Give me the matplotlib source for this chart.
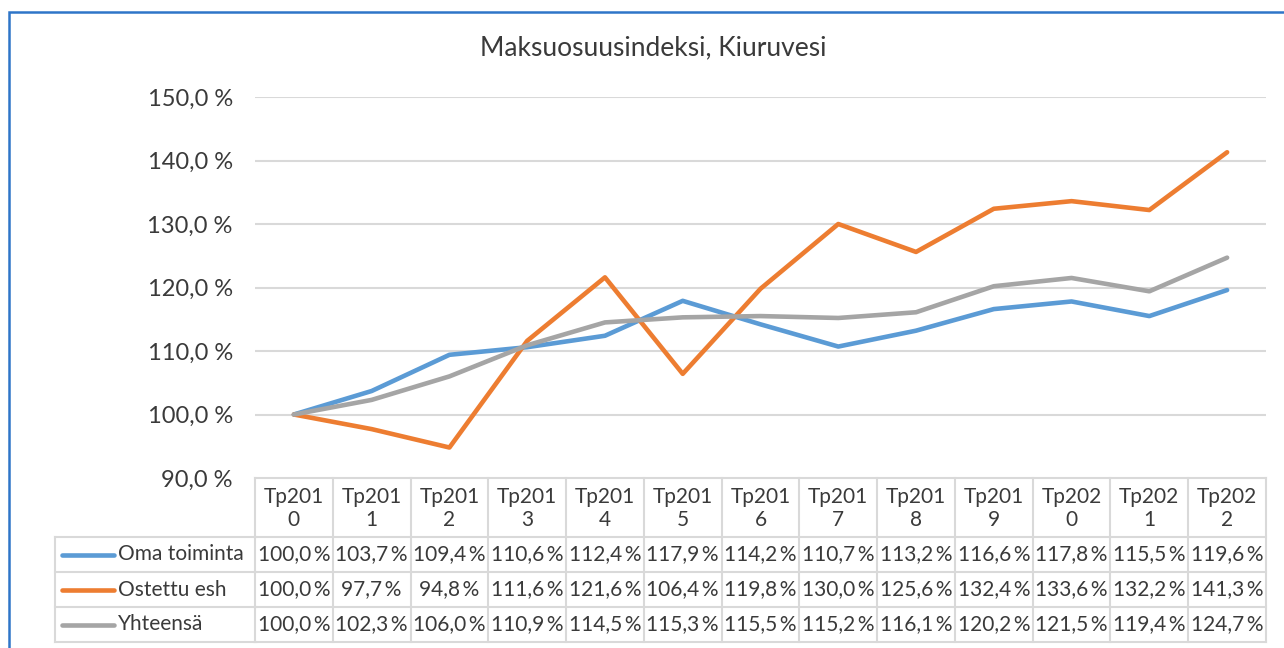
import matplotlib.pyplot as plt
from matplotlib.lines import Line2D
from matplotlib.patches import Rectangle
from matplotlib.transforms import blended_transform_factory

plt.rcParams['font.family'] = ['Lato', 'DejaVu Sans']

years = ['Tp2010', 'Tp2011', 'Tp2012', 'Tp2013', 'Tp2014', 'Tp2015', 'Tp2016',
         'Tp2017', 'Tp2018', 'Tp2019', 'Tp2020', 'Tp2021', 'Tp2022']
oma = [100.0, 103.7, 109.4, 110.6, 112.4, 117.9, 114.2, 110.7, 113.2, 116.6, 117.8, 115.5, 119.6]
ostettu = [100.0, 97.7, 94.8, 111.6, 121.6, 106.4, 119.8, 130.0, 125.6, 132.4, 133.6, 132.2, 141.3]
yhteensa = [100.0, 102.3, 106.0, 110.9, 114.5, 115.3, 115.5, 115.2, 116.1, 120.2, 121.5, 119.4, 124.7]

series = [('Oma toiminta', oma, '#5B9BD5'),
          ('Ostettu esh', ostettu, '#ED7D31'),
          ('Yhteensä', yhteensa, '#A5A5A5')]

W, H = 1284, 648
txt = '#3A3A3A'
grid = '#D9D9D9'

fig = plt.figure(figsize=(W / 100, H / 100), dpi=100)

def fx(px):
    return px / W

def fy(py):
    return 1 - py / H

# chart frame (extends past the image on the right and bottom)
fig.add_artist(Rectangle((fx(9), fy(700)), fx(1400), fy(12) - fy(700),
                         transform=fig.transFigure, fill=False,
                         edgecolor='#2E75C8', linewidth=1.8))

ax = fig.add_axes([fx(255), fy(478), fx(1266) - fx(255), fy(97) - fy(478)])
x = list(range(len(years)))
for name, vals, col in series:
    ax.plot(x, vals, color=col, linewidth=3.3, solid_capstyle='round', zorder=3)

ax.set_xlim(-0.5, len(years) - 0.5)
ax.set_ylim(90, 150)
ax.set_yticks(range(90, 151, 10))
ax.set_yticklabels([f'{v},0 %' for v in range(90, 151, 10)], fontsize=17, color=txt)
ax.tick_params(axis='y', length=0, pad=16)
ax.set_xticks([])
for s in ax.spines.values():
    s.set_visible(False)
for v in range(100, 151, 10):
    ax.axhline(v, color=grid, linewidth=1.5, zorder=1)

fig.text(fx(653), fy(48), 'Maksuosuusindeksi, Kiuruvesi', ha='center', va='center',
         fontsize=19, color=txt)

# data table
tr = blended_transform_factory(ax.transData, fig.transFigure)
row_y = [478, 537, 572, 607, 642]
n = len(years)

def hline(x0, x1, py):
    fig.add_artist(Line2D([x0, x1], [fy(py), fy(py)], transform=tr,
                          color=grid, linewidth=1.5))

for py in row_y:
    hline(-0.5, n - 0.5, py)
for py in row_y[1:]:
    fig.add_artist(Line2D([fx(55), fx(256)], [fy(py), fy(py)], transform=fig.transFigure,
                          color=grid, linewidth=1.5))
fig.add_artist(Line2D([fx(55), fx(55)], [fy(537), fy(642)], transform=fig.transFigure,
                      color=grid, linewidth=1.5))
for i in range(n + 1):
    fig.add_artist(Line2D([i - 0.5, i - 0.5], [fy(478), fy(642)], transform=tr,
                          color=grid, linewidth=1.5))

for i, yr in enumerate(years):
    fig.text(i, fy(497), yr[:5], transform=tr, ha='center', va='center',
             fontsize=15, color=txt)
    fig.text(i, fy(520), yr[5:], transform=tr, ha='center', va='center',
             fontsize=15, color=txt)

for r, (name, vals, col) in enumerate(series):
    yc = (row_y[r + 1] + row_y[r + 2]) / 2
    fig.add_artist(Line2D([fx(62), fx(114)], [fy(yc), fy(yc)], transform=fig.transFigure,
                          color=col, linewidth=3.3, solid_capstyle='round'))
    fig.text(fx(118), fy(yc), name, ha='left', va='center', fontsize=15, color=txt)
    for i, v in enumerate(vals):
        fig.text(i, fy(yc), f'{v:.1f}\u2009%'.replace('.', ','), transform=tr,
                 ha='center', va='center', fontsize=15, color=txt)

fig.savefig('out.png', dpi=100)
